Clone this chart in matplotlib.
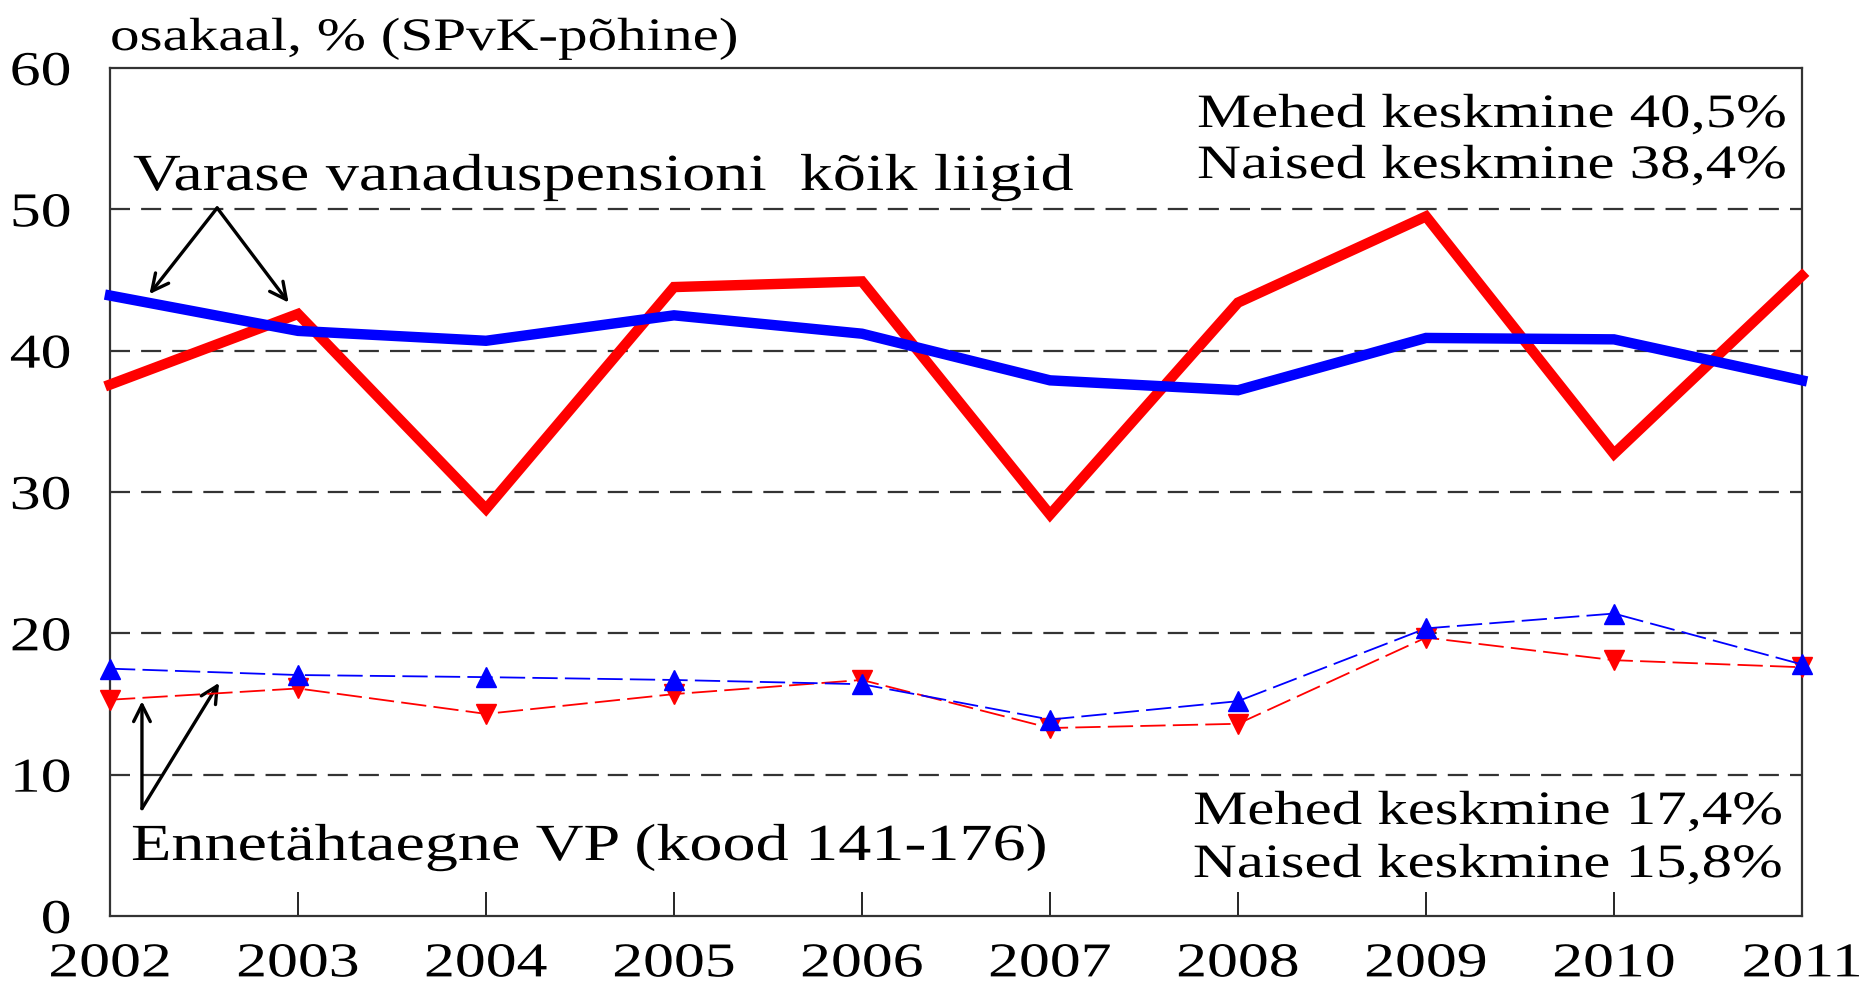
import matplotlib
matplotlib.use("Agg")
import matplotlib.pyplot as plt
from matplotlib.patheffects import AbstractPathEffect
from matplotlib.transforms import Affine2D

years = [2002, 2003, 2004, 2005, 2006, 2007, 2008, 2009, 2010, 2011]
# Varase vanaduspensioni kõik liigid
all_women = [37.6, 42.6, 28.8, 44.5, 44.9, 28.4, 43.4, 49.5, 32.7, 45.3]
all_men = [43.9, 41.4, 40.7, 42.5, 41.2, 37.9, 37.2, 40.9, 40.8, 37.9]
# Ennetähtaegne VP (kood 141-176)
early_men = [17.5, 17.05, 16.9, 16.7, 16.4, 13.9, 15.2, 20.35, 21.4, 17.8]
early_women = [15.3, 16.1, 14.3, 15.7, 16.7, 13.3, 13.6, 19.7, 18.1, 17.6]
yticks = [0, 10, 20, 30, 40, 50, 60]

plt.rcParams['font.family'] = ['Liberation Serif', 'DejaVu Serif']


class Stretch(AbstractPathEffect):
    """Draw text glyphs stretched horizontally (the reference text is wide)."""

    def __init__(self, sx, anchor='left'):
        super().__init__()
        self.sx = sx
        self.anchor = anchor

    def draw_path(self, renderer, gc, tpath, affine, rgbFace=None):
        ext = tpath.get_extents()
        if self.anchor == 'right':
            a = ext.x1
        elif self.anchor == 'center':
            a = 0.5 * (ext.x0 + ext.x1)
        else:
            a = 0.0
        t = Affine2D().translate(-a, 0).scale(self.sx, 1).translate(a, 0)
        renderer.draw_path(gc, tpath, t + affine, rgbFace)


SX = 1.27
W, H = 1863, 988
fig = plt.figure(figsize=(W / 100, H / 100), dpi=100)
ax = fig.add_axes([110 / W, 1 - 916 / H, (1802 - 110) / W, (916 - 68) / H])

for y in [10, 20, 30, 40, 50]:
    ax.axhline(y, color='#333333', lw=1.6, linestyle=(0, (9, 5)), zorder=1)

ax.plot(years, all_women, color='#ff0000', lw=7.5, solid_joinstyle='miter', zorder=3, clip_on=False)
ax.plot(years, all_men, color='#0000ff', lw=7.5, solid_joinstyle='miter', zorder=3, clip_on=False)
ax.plot(years, early_women, color='#ff0000', lw=1.3, linestyle=(0, (14, 4)),
        marker='v', markersize=15, zorder=4, clip_on=False)
ax.plot(years, early_men, color='#0000ff', lw=1.3, linestyle=(0, (14, 4)),
        marker='^', markersize=15, zorder=5, clip_on=False)

ax.set_xlim(2002, 2011)
ax.set_ylim(0, 60)
ax.set_xticks(years)
ax.set_xticklabels([str(y) for y in years])
ax.set_yticks(yticks)
ax.set_yticklabels([str(v) for v in yticks])
ax.tick_params(axis='x', direction='in', length=17, width=1.2, pad=19, labelsize=35)
ax.tick_params(axis='y', length=0, pad=28, labelsize=35)
for lab in ax.get_xticklabels():
    lab.set_path_effects([Stretch(SX, 'center')])
for lab in ax.get_yticklabels():
    lab.set_path_effects([Stretch(SX, 'right')])
for s in ax.spines.values():
    s.set_color('#333333')
    s.set_linewidth(1.6)


def ftext(xpx, ypx, s, size, ha):
    t = fig.text(xpx / W, 1 - ypx / H, s, fontsize=size, ha=ha, va='baseline')
    t.set_path_effects([Stretch(SX, ha)])
    return t


ftext(110, 50, 'osakaal, % (SPvK-põhine)', 33.5, 'left')
ftext(133, 190, 'Varase vanaduspensioni  kõik liigid', 37.5, 'left')
ftext(131, 860, 'Ennetähtaegne VP (kood 141-176)', 37.5, 'left')
ftext(1786, 127, 'Mehed keskmine 40,5%', 34.5, 'right')
ftext(1786, 178, 'Naised keskmine 38,4%', 34.5, 'right')
ftext(1782, 824, 'Mehed keskmine 17,4%', 34.5, 'right')
ftext(1782, 877, 'Naised keskmine 15,8%', 34.5, 'right')

arrow = dict(arrowstyle='->', color='black', lw=2.4, mutation_scale=30, shrinkA=0, shrinkB=0)
ax.annotate('', xy=(2002.21, 44.0), xytext=(2002.57, 50.1), arrowprops=arrow)
ax.annotate('', xy=(2002.95, 43.4), xytext=(2002.57, 50.1), arrowprops=arrow)
ax.annotate('', xy=(2002.17, 15.2), xytext=(2002.17, 7.6), arrowprops=arrow)
ax.annotate('', xy=(2002.58, 16.5), xytext=(2002.17, 7.6), arrowprops=arrow)

fig.savefig('out.png', dpi=100)
